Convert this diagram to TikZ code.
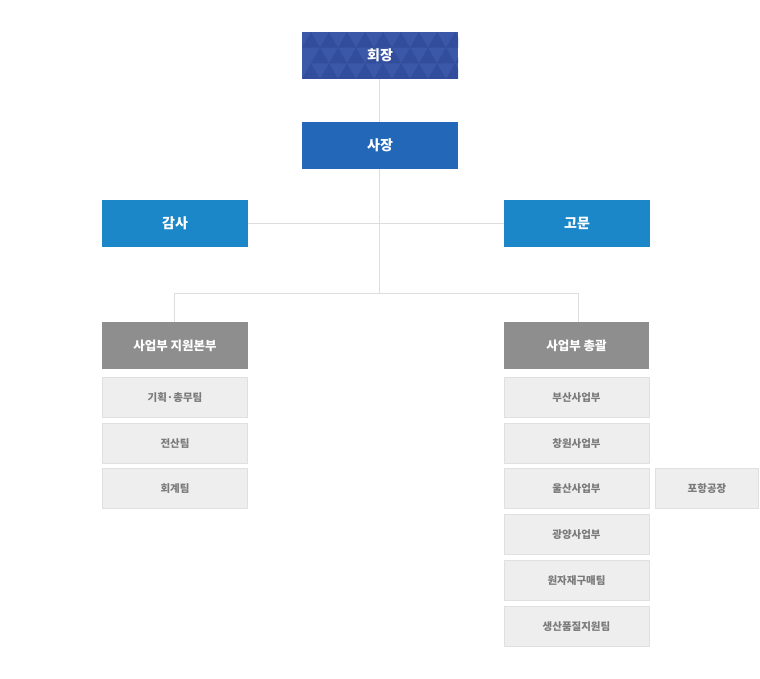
\documentclass[tikz,border=0pt]{standalone}
\usepackage{fontspec}
\newfontfamily\kr{Noto Sans CJK KR}
\definecolor{chair}{HTML}{3B57A8}
\definecolor{chairdark}{HTML}{324D9C}
\definecolor{pres}{HTML}{2368B8}
\definecolor{adv}{HTML}{1C87C8}
\definecolor{divc}{HTML}{8E8E8F}
\definecolor{teamfill}{HTML}{EEEEEE}
\definecolor{teamline}{HTML}{E0E0E0}
\definecolor{teamtext}{HTML}{7A7A7A}
\definecolor{linec}{HTML}{DDDDDD}
\tikzset{
  topbox/.style={minimum width=156pt, minimum height=47pt, inner sep=0pt, text=white, font=\kr\bfseries\fontsize{14}{16}\selectfont},
  sidebox/.style={fill=adv, minimum width=146pt, minimum height=47pt, inner sep=0pt, text=white, font=\kr\bfseries\fontsize{14}{16}\selectfont},
  divbox/.style={fill=divc, minimum width=146pt, minimum height=47pt, inner sep=0pt, text=white, font=\kr\bfseries\fontsize{12.5}{15}\selectfont},
  teambox/.style={fill=teamfill, draw=teamline, line width=1pt, minimum width=145pt, minimum height=40pt, inner sep=0pt, text=teamtext, font=\kr\bfseries\fontsize{10.5}{12}\selectfont},
  conn/.style={draw=linec, line width=1pt}
}
\begin{document}
\begin{tikzpicture}[x=1pt,y=-1pt]
\useasboundingbox (0,0) rectangle (760,679);
% chairman with triangle pattern
\fill[chair] (302,32) rectangle (458,79);
\begin{scope}
\clip (302,32) rectangle (458,79);
\foreach \r in {0,1,2}{
  \foreach \c in {0,...,9}{
    \pgfmathsetmacro{\xx}{302+\c*18+mod(\r,2)*9}
    \pgfmathsetmacro{\yy}{32+\r*15.7}
    \fill[chairdark] (\xx,\yy+15.7) -- (\xx+9,\yy) -- (\xx+18,\yy+15.7) -- cycle;
  }
}
\end{scope}
\node[topbox] (chair) at (380,55.5) {회장};
\node[topbox, fill=pres] (pres) at (380,145.5) {사장};
\node[sidebox] (audit) at (175,223.5) {감사};
\node[sidebox] (advisor) at (577,223.5) {고문};
\node[divbox] (supp) at (175,345.5) {사업부 지원본부};
\node[divbox, minimum width=145pt] (gen) at (576.5,345.5) {사업부 총괄};
% connectors
\coordinate (hub) at (379,223);
\coordinate (split) at (379,293);
\coordinate (lsplit) at (174,293);
\coordinate (rsplit) at (578,293);
\draw[conn] (379,79) -- (379,122);
\draw[conn] (379,169) -- (split);
\draw[conn] (audit.east |- hub) -- (advisor.west |- hub);
\draw[conn] (lsplit) -- (rsplit);
\draw[conn] (lsplit) -- (174,322);
\draw[conn] (rsplit) -- (578,322);
% left teams
\node[teambox] (t1) at (175,397.5) {기획·총무팀};
\node[teambox] (t2) at (175,443.5) {전산팀};
\node[teambox] (t3) at (175,488.5) {회계팀};
% right teams
\node[teambox] (r1) at (576.5,397.5) {부산사업부};
\node[teambox] (r2) at (576.5,443.5) {창원사업부};
\node[teambox] (r3) at (576.5,488.5) {울산사업부};
\node[teambox] (r4) at (576.5,534.5) {광양사업부};
\node[teambox] (r5) at (576.5,580.5) {원자재구매팀};
\node[teambox] (r6) at (576.5,626.5) {생산품질지원팀};
\node[teambox, minimum width=103pt] (ph) at (707,488.5) {포항공장};
\end{tikzpicture}
\end{document}
